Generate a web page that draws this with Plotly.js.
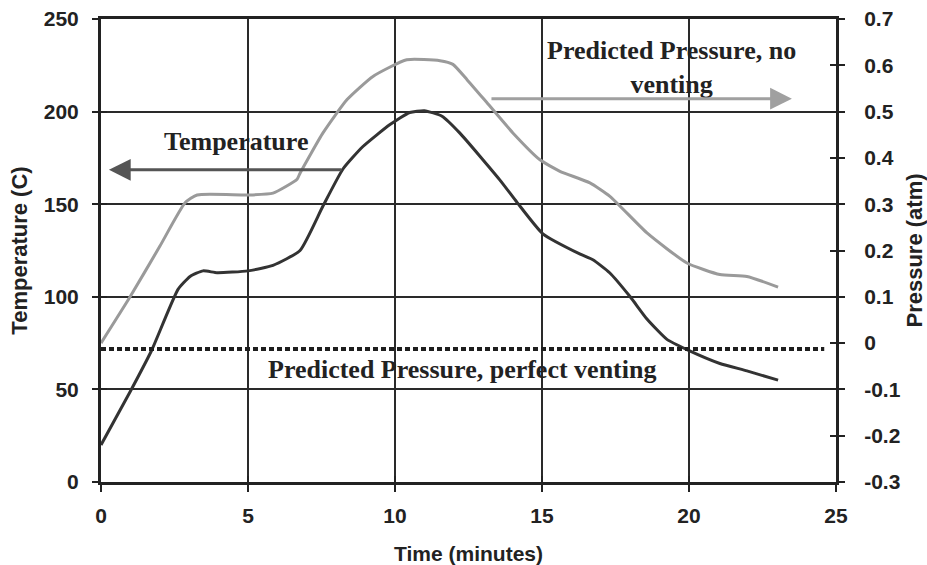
<!DOCTYPE html>
<html>
<head>
<meta charset="utf-8">
<script src="https://cdn.plot.ly/plotly-3.0.1.min.js"></script>
<style>html,body{margin:0;padding:0;background:#fff;}#chart{width:927px;height:565px;}</style>
</head>
<body>
<div id="chart"></div>
<script>
// Temperature (dark line, left axis)
const tempTime = [0, 1, 1.72, 2.62, 3.03, 3.47, 3.95, 5.0, 5.85, 6.77, 7.55, 8.23, 8.9, 9.83, 10.5, 11.0, 11.6, 12.2, 13.57, 14.15, 15.03, 16.3, 16.73, 17.3, 18.0, 18.57, 19.25, 19.93, 21.05, 21.97, 23.03];
const tempC    = [20, 49, 71, 104, 111, 114, 113, 114, 117, 125, 149, 169, 181, 193, 199.5, 200.5, 197.5, 188.5, 163, 151, 134, 123, 120, 113, 100, 88, 77, 71.5, 64, 60, 55];
// Predicted pressure, no venting (grey line, right axis)
const noVentTime = [0, 0.99, 2.0, 2.86, 3.27, 5.0, 5.85, 6.67, 6.77, 7.55, 8.37, 9.25, 10.4, 11.53, 11.97, 12.45, 13.13, 14.01, 14.93, 15.61, 16.63, 17.31, 18.57, 19.93, 21.05, 21.97, 23.03];
const noVentP    = [0.0, 0.10, 0.209, 0.303, 0.32, 0.32, 0.324, 0.354, 0.367, 0.454, 0.526, 0.576, 0.612, 0.61, 0.602, 0.569, 0.519, 0.454, 0.396, 0.371, 0.346, 0.317, 0.238, 0.173, 0.148, 0.144, 0.121];
// Predicted pressure, perfect venting (dotted line, right axis)
const perfectVentTime = [0, 24.6];
const perfectVentP    = [-0.013, -0.013];

// Axis ticks
const xTicks = [0, 5, 10, 15, 20, 25];
const tempTicks = [0, 50, 100, 150, 200, 250];
const pressTicks = [-0.3, -0.2, -0.1, 0, 0.1, 0.2, 0.3, 0.4, 0.5, 0.6, 0.7];
const pressTickText = ["-0.3", "-0.2", "-0.1", "0", "0.1", "0.2", "0.3", "0.4", "0.5", "0.6", "0.7"];

// Annotation labels
const labelTemp = "Temperature";
const labelNoVent = "Predicted Pressure, no<br>venting";
const labelPerfect = "Predicted Pressure, perfect venting";

const tickFont = {family: "Liberation Sans, Arial, sans-serif", size: 21, color: "#222", weight: "bold"};
const yTitleFont = {family: "Liberation Sans, Arial, sans-serif", size: 22, color: "#222", weight: "bold"};
const annFont = {family: "Liberation Serif, Times New Roman, serif", size: 26, color: "#222", weight: "bold"};

const traces = [
  {x: tempTime, y: tempC, xaxis: "x", yaxis: "y", mode: "lines", line: {color: "#333333", width: 3, shape: "spline", smoothing: 0.5}, hoverinfo: "skip"},
  {x: noVentTime, y: noVentP, xaxis: "x", yaxis: "y2", mode: "lines", line: {color: "#9a9a9a", width: 3, shape: "spline", smoothing: 0.5}, hoverinfo: "skip"},
  {x: perfectVentTime, y: perfectVentP, xaxis: "x", yaxis: "y2", mode: "lines", line: {color: "#1e1e1e", width: 4, dash: "5px,3px"}, hoverinfo: "skip"},
  {x: [], y: [], xaxis: "x2", yaxis: "y3", mode: "lines", hoverinfo: "skip"},
  {x: [], y: [], xaxis: "x2", yaxis: "y4", mode: "lines", hoverinfo: "skip"}
];

const layout = {
  width: 927, height: 565,
  margin: {l: 101, r: 91, t: 19, b: 83},
  paper_bgcolor: "#fff", plot_bgcolor: "#fff",
  showlegend: false,
  xaxis: {
    range: [0, 25], tickvals: xTicks, ticks: "outside", ticklen: 7, tickwidth: 2, tickcolor: "#222",
    showgrid: true, gridcolor: "#2a2a2a", gridwidth: 2, zeroline: false,
    showline: true, linecolor: "#222", linewidth: 3, mirror: true,
    tickfont: tickFont, ticklabelstandoff: 6,
    title: {text: "Time (minutes)", font: tickFont, standoff: 22}
  },
  xaxis2: {
    overlaying: "x", range: [0, 25], tickvals: xTicks, ticks: "inside", ticklen: 6, tickwidth: 2, tickcolor: "#222",
    showticklabels: false, showgrid: false, zeroline: false, showline: false
  },
  yaxis: {
    range: [0, 250], tickvals: tempTicks, ticks: "outside", ticklen: 6, tickwidth: 2, tickcolor: "#222",
    showgrid: true, gridcolor: "#2a2a2a", gridwidth: 2, zeroline: false,
    showline: true, linecolor: "#222", linewidth: 3,
    tickfont: tickFont, ticklabelstandoff: 9,
    title: {text: "Temperature (C)", font: yTitleFont, standoff: 11}
  },
  yaxis2: {
    overlaying: "y", side: "right", range: [-0.3, 0.7], tickvals: pressTicks, ticktext: pressTickText,
    ticks: "outside", ticklen: 6, tickwidth: 2, tickcolor: "#222",
    showgrid: false, zeroline: false, showline: true, linecolor: "#222", linewidth: 3,
    tickfont: tickFont, ticklabelstandoff: 15,
    title: {text: "Pressure (atm)", font: yTitleFont, standoff: 17}
  },
  yaxis3: {
    overlaying: "y", range: [0, 250], tickvals: tempTicks, ticks: "inside", ticklen: 6, tickwidth: 2, tickcolor: "#222",
    showticklabels: false, showgrid: false, zeroline: false, showline: false
  },
  yaxis4: {
    overlaying: "y", side: "right", range: [-0.3, 0.7], tickvals: pressTicks, ticks: "inside", ticklen: 6, tickwidth: 2, tickcolor: "#222",
    showticklabels: false, showgrid: false, zeroline: false, showline: false
  },
  annotations: [
    {x: 4.6, y: 183.8, xref: "x", yref: "y", text: labelTemp, showarrow: false, font: annFont},
    {x: 0.27, y: 168.6, ax: 8.23, ay: 168.6, xref: "x", yref: "y", axref: "x", ayref: "y", text: "", showarrow: true,
     arrowhead: 2, arrowsize: 1.45, arrowwidth: 3, arrowcolor: "#555"},
    {x: 19.39, y: 223.8, xref: "x", yref: "y", text: labelNoVent, showarrow: false, font: annFont, align: "center"},
    {x: 23.5, y: 207, ax: 13.23, ay: 207, xref: "x", yref: "y", axref: "x", ayref: "y", text: "", showarrow: true,
     arrowhead: 2, arrowsize: 1.45, arrowwidth: 3, arrowcolor: "#a0a0a0"},
    {x: 12.28, y: 60.5, xref: "x", yref: "y", text: labelPerfect, showarrow: false, font: annFont}
  ]
};

Plotly.newPlot("chart", traces, layout, {staticPlot: true, displayModeBar: false});
</script>
</body>
</html>
